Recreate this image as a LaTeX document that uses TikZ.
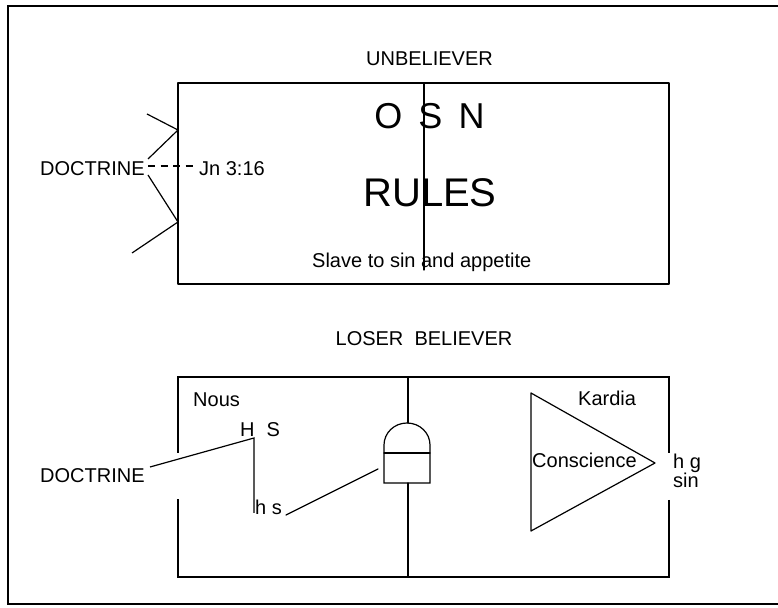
\documentclass[tikz,border=0pt]{standalone}
\usepackage{fontspec}
\setmainfont{Liberation Sans}
\usepackage{tikz}
\usepackage{tkz-euclide}

\begin{document}
\begin{tikzpicture}[x=10pt, y=10pt,
        txt/.style={inner sep=0pt, font=\fontsize{20}{22}\selectfont},
        bigtxt/.style={inner sep=0pt, font=\fontsize{36}{40}\selectfont}]
            \clip (0,0) rectangle (77.8,60.7);
            % frame (right side runs off the page)
            \tkzDefPoints{0.8/60.1/F1, 80/60.1/F2, 0.8/0.3/F3, 80/0.3/F4}
            \draw[line width=1.5pt] (F2) -- (F1) -- (F3) -- (F4);
            % unbeliever
            \tkzDefPoints{17.8/52.4/U1, 66.9/52.4/U2, 66.9/32.3/U3, 17.8/32.3/U4}
            \tkzDefPoints{42.4/52.4/V1, 42.4/33.7/V2}
            \tkzDefPoints{14.7/49.3/A, 17.8/47.7/B, 14.8/44.8/C}
            \tkzDefPoints{14.8/43.2/D, 17.8/38.5/E, 13.2/35.4/G}
            \tkzDefPoints{14.8/44.1/J1, 19.6/44.1/J2}
            \tkzDrawPolygon[line width=1.2pt](U1,U2,U3,U4)
            \tkzDrawSegment[line width=1.2pt](V1,V2)
            \draw[line width=1.2pt] (A) -- (B) -- (C) (D) -- (E) -- (G);
            \draw[line width=1.2pt, dash pattern=on 7pt off 5.5pt] (J1) -- (J2);
            \node[txt, anchor=base] (unb) at (42.95,54.1) {UNBELIEVER};
            \node[bigtxt, anchor=base] (osn) at (42.95,47.8) {O\hspace{0.45em}S\hspace{0.45em}N};
            \node[inner sep=0pt, font=\fontsize{40}{44}\selectfont, anchor=base] (rules) at (43.0,40.0) {RULES};
            \node[txt, anchor=base west] (slave) at (31.2,33.9) {Slave to sin and appetite};
            \node[txt, anchor=base west] (doc1) at (4.0,43.1) {DOCTRINE};
            \node[txt, anchor=base west] (jn) at (19.9,43.1) {Jn 3:16};
            % loser believer
            \tkzDefPoints{17.8/23.0/L1, 66.9/23.0/L2, 66.9/3.0/L3, 17.8/3.0/L4}
            \tkzDefPoints{17.8/15.4/L5, 17.8/10.8/L6, 66.9/15.4/L7, 66.9/10.7/L8}
            \tkzDefPoints{40.8/23.0/M1, 40.8/18.4/M2, 40.8/12.4/M3, 40.8/3.0/M4}
            \tkzDefPoints{38.4/12.4/P1, 43.0/12.4/P2, 38.4/15.4/P3, 43.0/15.4/P4}
            \tkzDefPoints{15.0/14.0/N1, 25.4/16.9/N2, 25.4/9.4/N3}
            \tkzDefPoints{28.6/9.2/S1, 37.8/13.8/S2}
            \tkzDefPoints{53.1/21.4/K1, 65.5/14.4/K2, 53.1/7.6/K3}
            \draw[line width=1.2pt] (L5) -- (L1) -- (L2) -- (L7) (L8) -- (L3) -- (L4) -- (L6);
            \tkzDrawSegments[line width=1.2pt](M1,M2 M3,M4 P3,P4 S1,S2)
            \draw[line width=1.2pt] (P1) -- (38.4,16.2) arc[start angle=180, end angle=0, x radius=2.3, y radius=2.2] -- (P2) -- cycle;
            \draw[line width=1.2pt] (N1) -- (N2) -- (N3);
            \tkzDrawPolygon[line width=1.2pt](K1,K2,K3)
            \node[txt, anchor=base] (lb) at (42.4,26.1) {LOSER\ \ BELIEVER};
            \node[txt, anchor=base west] (nous) at (19.3,20.0) {Nous};
            \node[txt, anchor=base west] (hs1) at (24.0,17.0) {H\hspace{0.6em}S};
            \node[txt, anchor=base west] (hs2) at (25.5,9.2) {h s};
            \node[txt, anchor=base west] (doc2) at (4.0,12.4) {DOCTRINE};
            \node[txt, anchor=base west] (kar) at (57.8,20.1) {Kardia};
            \node[txt, anchor=base west] (con) at (53.2,13.9) {Conscience};
            \node[inner sep=0pt, font=\fontsize{20}{18}\selectfont, align=left, anchor=base west] (hg) at (67.3,11.9) {h g\\sin};
        \end{tikzpicture}
\end{document}
